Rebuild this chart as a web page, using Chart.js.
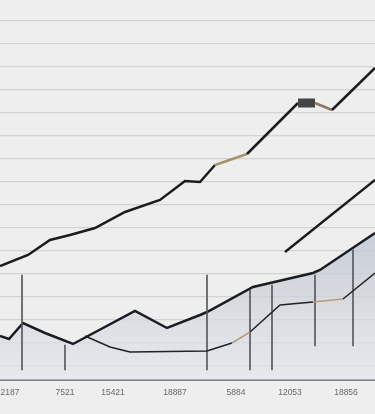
<!DOCTYPE html>
<html>
<head>
<meta charset="utf-8">
<script src="https://cdn.jsdelivr.net/npm/chart.js@4.4.0/dist/chart.umd.min.js"></script>
<style>
  html, body { margin: 0; padding: 0; background: #eeeeef; }
  #wrap { width: 375px; height: 414px; }
</style>
</head>
<body>
<div id="wrap"><canvas id="chartInfo" width="375" height="414"></canvas></div>
<script>
// x axis tick values and their labels
var tickPos = [10, 65, 113, 175, 236, 290, 346]
var tickLabels = ['2187', '7521', '15421', '18887', '5884', '12053', '18856']

// gridline values (y scale runs 0..380)
var gridVals = [14, 37, 60, 83, 106, 129, 152, 175, 198, 221, 244, 267, 290, 313, 336, 359]

// upper series
var upperX = [0, 28, 50, 70, 95, 125, 160, 185, 200, 215, 247, 298, 315, 332, 375]
var upperY = [114, 125, 140, 145, 152, 168, 180, 199, 198, 215, 226, 277, 277, 270, 312]

// short rising segment
var shortX = [285, 375]
var shortY = [128, 200]

// lower filled series
var lowerX = [0, 9, 23, 45, 73, 135, 167, 200, 207, 253, 313, 320, 375]
var lowerY = [44, 41, 57, 47, 36, 69, 52, 65, 68, 93, 107, 110, 147]

// thin secondary series
var thinX = [85, 110, 130, 207, 232, 250, 280, 313, 343, 375]
var thinY = [44, 33, 28, 29, 37, 48, 75, 78, 81, 107]

// vertical drop lines
var dropX = [22, 65, 207, 250, 272, 315, 353]
var dropTop = [105, 35, 105, 90, 95, 105, 130]
var dropBottom = [10, 10, 10, 10, 10, 34, 34]

function pts(xs, ys) {
    var out = []
    for (var i = 0; i < xs.length; i++) out.push({ x: xs[i], y: ys[i] })
    return out
}

var drops = []
for (var i = 0; i < dropX.length; i++) drops.push({ x: dropX[i], y: [dropBottom[i], dropTop[i]] })

var ctx = document.getElementById('chartInfo').getContext('2d')
var myChart = new Chart(ctx, {
    data: {
        datasets: [{
            type: 'line',
            data: pts(upperX, upperY),
            borderColor: '#1c1c1c',
            borderWidth: 2.5,
            pointRadius: 0,
            tension: 0,
            order: 1,
            segment: {
                borderColor: function (c) {
                    if (c.p0DataIndex === 9) return '#a8916f'
                    if (c.p0DataIndex === 12) return '#8d7a64'
                    if (c.p0DataIndex === 11) return '#454545'
                    return undefined
                },
                borderWidth: function (c) { return c.p0DataIndex === 11 ? 9 : undefined }
            }
        }, {
            type: 'line',
            data: pts(shortX, shortY),
            borderColor: '#1c1c1c',
            borderWidth: 2.5,
            pointRadius: 0,
            order: 1
        }, {
            type: 'line',
            data: pts(lowerX, lowerY),
            borderColor: '#1a1d22',
            borderWidth: 2.5,
            pointRadius: 0,
            tension: 0,
            fill: 'origin',
            backgroundColor: function (c) {
                var area = c.chart.chartArea
                if (!area) return 'rgba(210,214,220,0.7)'
                var g = c.chart.ctx.createLinearGradient(0, area.bottom - 150, 0, area.bottom)
                g.addColorStop(0, 'rgba(190,197,207,0.8)')
                g.addColorStop(1, 'rgba(228,230,234,0.7)')
                return g
            },
            order: 3
        }, {
            type: 'line',
            data: pts(thinX, thinY),
            borderColor: '#222222',
            borderWidth: 1.5,
            pointRadius: 0,
            tension: 0,
            order: 1,
            segment: {
                borderColor: function (c) {
                    if (c.p0DataIndex === 4 || c.p0DataIndex === 7) return '#b49d7a'
                    return undefined
                }
            }
        }, {
            type: 'bar',
            data: drops,
            backgroundColor: '#55595f',
            barThickness: 1,
            order: 2
        }]
    },
    options: {
        animation: false,
        responsive: false,
        layout: { padding: 0 },
        plugins: { legend: { display: false }, tooltip: { enabled: false } },
        scales: {
            x: {
                type: 'linear',
                min: 0,
                max: 375,
                offset: false,
                grid: { display: false, drawTicks: false },
                border: { display: true, color: '#1e1e1e', width: 1.6 },
                afterBuildTicks: function (s) { s.ticks = tickPos.map(function (v) { return { value: v } }) },
                afterFit: function (s) { s.height = 34; s.paddingLeft = 0; s.paddingRight = 0 },
                ticks: {
                    autoSkip: false,
                    maxRotation: 0,
                    padding: 8,
                    color: '#6a6a6a',
                    font: { family: 'Liberation Sans', size: 8.5 },
                    callback: function (v, i) { return tickLabels[i] }
                }
            },
            y: {
                type: 'linear',
                min: 0,
                max: 380,
                afterBuildTicks: function (s) { s.ticks = gridVals.map(function (v) { return { value: v } }) },
                afterFit: function (s) { s.width = 0; s.paddingTop = 0; s.paddingBottom = 0 },
                grid: { color: '#d3d3d5', lineWidth: 1.3, drawTicks: false },
                border: { display: false },
                ticks: { display: false }
            }
        }
    }
})
</script>
</body>
</html>
